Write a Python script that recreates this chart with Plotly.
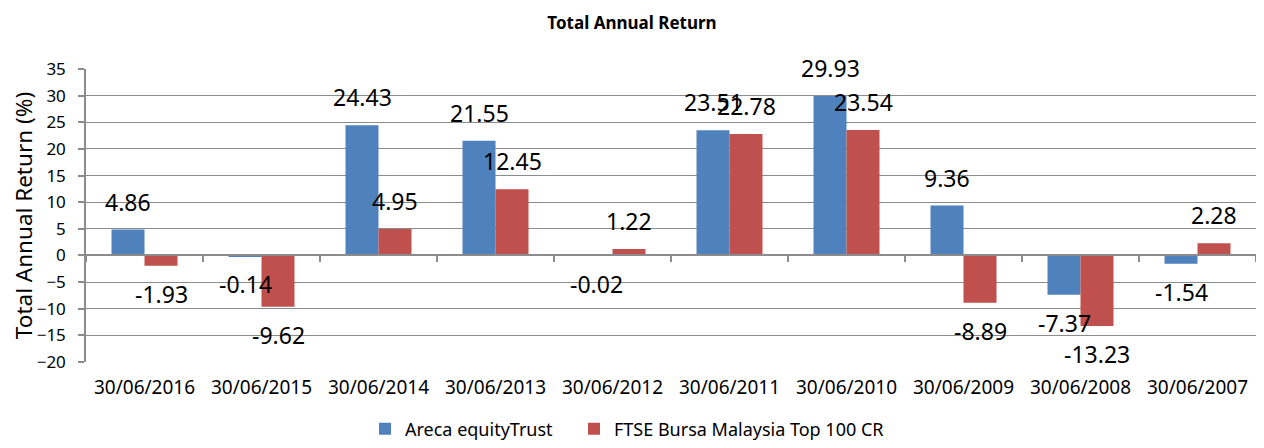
import plotly.graph_objects as go

# ---- data ----
categories = ["30/06/2016", "30/06/2015", "30/06/2014", "30/06/2013", "30/06/2012",
              "30/06/2011", "30/06/2010", "30/06/2009", "30/06/2008", "30/06/2007"]
areca_values = [4.86, -0.14, 24.43, 21.55, -0.02, 23.51, 29.93, 9.36, -7.37, -1.54]
ftse_values = [-1.93, -9.62, 4.95, 12.45, 1.22, 22.78, 23.54, -8.89, -13.23, 2.28]
series_names = ["Areca equityTrust", "FTSE Bursa Malaysia Top 100 CR"]
y_min, y_max, y_step = -20, 35, 5

# ---- style ----
FONT = "Noto Sans"
BLUE = "#4F81BD"
RED = "#C0504D"
GRID = "#8C8C8C"
BAR_HALF = 16.5   # px, half of one bar's width (for centring labels on bars)
LABEL_OFF = 28    # px, distance of data label centre beyond bar end
# the page body has an 8px margin on every side; size the figure so the page never overflows
W, H = 1248, 432

fig = go.Figure()
fig.add_trace(go.Bar(x=categories, y=areca_values, name=series_names[0], legend="legend",
                     marker=dict(color=BLUE, line=dict(width=0))))
fig.add_trace(go.Bar(x=categories, y=ftse_values, name=series_names[1], legend="legend2",
                     marker=dict(color=RED, line=dict(width=0))))
# helper trace for the zero-line category axis with boundary ticks
fig.add_trace(go.Scatter(x=[], y=[], xaxis="x2", yaxis="y", showlegend=False,
                         hoverinfo="skip"))

annotations = []
for vals, shift in ((areca_values, -BAR_HALF), (ftse_values, BAR_HALF)):
    for cat, v in zip(categories, vals):
        annotations.append(dict(
            x=cat, y=v, xref="x", yref="y", text=f"{v:.2f}", showarrow=False,
            xshift=shift, yshift=LABEL_OFF if v >= 0 else -LABEL_OFF,
            xanchor="center", yanchor="middle",
            font=dict(family=FONT, size=23, color="black")))

legend_common = dict(orientation="h", xref="container", yref="container",
                     y=1 - 421 / H, xanchor="left", yanchor="middle",
                     font=dict(family=FONT, size=18, color="black"),
                     bgcolor="rgba(0,0,0,0)")

n = len(categories)
fig.update_layout(
    width=W, height=H,
    margin=dict(l=78, r=0, t=61, b=78, autoexpand=False),
    paper_bgcolor="white", plot_bgcolor="white",
    font=dict(family=FONT, color="black"),
    title=dict(text="<b>Total Annual Return</b>", x=(632 - 8) / W, xref="container",
               y=1 - 15 / H, yref="container", xanchor="center", yanchor="middle",
               font=dict(family=FONT, size=17, color="black")),
    barmode="group", bargap=0.436, bargroupgap=0,
    showlegend=True,
    legend=dict(x=357 / W, **legend_common),
    legend2=dict(x=566 / W, **legend_common),
    xaxis=dict(type="category", range=[-0.5, n - 0.5], showline=False, showgrid=False,
               zeroline=False, ticks="", ticklabelstandoff=12, automargin=False,
               tickfont=dict(family=FONT, size=19, color="black")),
    xaxis2=dict(overlaying="x", anchor="free",
                position=(0 - y_min) / (y_max - y_min),
                range=[-0.5, n - 0.5], tickmode="linear", tick0=-0.5, dtick=1,
                ticks="outside", ticklen=6, tickcolor=GRID, tickwidth=1.5,
                showline=True, linecolor=GRID, linewidth=1.5, automargin=False,
                showgrid=False, zeroline=False, showticklabels=False),
    yaxis=dict(range=[y_min, y_max], tickmode="linear", tick0=y_min, dtick=y_step,
               showgrid=True, gridcolor=GRID, gridwidth=1.2, zeroline=False,
               showline=True, linecolor=GRID, linewidth=1.5, automargin=False,
               ticks="outside", ticklen=6, tickcolor=GRID, tickwidth=1.5,
               ticklabelstandoff=9,
               tickfont=dict(family=FONT, size=17, color="black"),
               title=dict(text="Total Annual Return (%)", standoff=10,
                          font=dict(family=FONT, size=22.5, color="black"))),
    annotations=annotations,
)

fig.write_html("out.html")
